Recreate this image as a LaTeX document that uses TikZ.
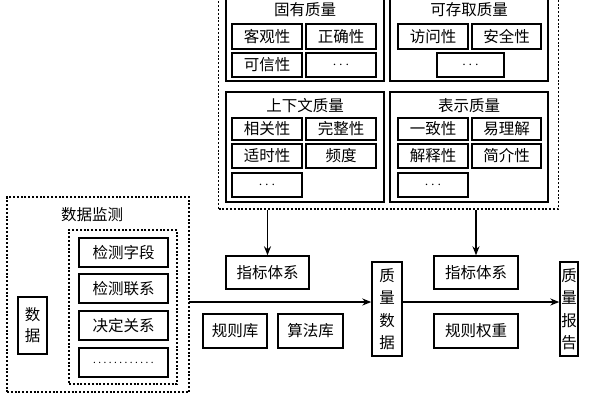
\documentclass[tikz,border=0pt]{standalone}
\usepackage{fontspec}
\setmainfont{Noto Sans CJK SC}
\usetikzlibrary{arrows.meta}
\begin{document}
\begin{tikzpicture}[x=1pt,y=-1pt,
  font=\fontsize{15.5}{17}\selectfont,
  sbox/.style={draw,line width=1.4pt,inner sep=0pt,minimum width=70pt,minimum height=25pt},
  gbox/.style={draw,line width=1.4pt,inner sep=0pt},
  dbox/.style={draw,line width=1.5pt,dash pattern=on 2pt off 1.8pt,inner sep=0pt},
  ttl/.style={inner sep=0pt},
  arr/.style={line width=1.4pt,-{Stealth[length=9pt,width=7pt]}}]
\useasboundingbox (0,0) rectangle (600,400);
% top dashed area
\node[dbox,minimum width=340pt,minimum height=216pt] (topbox) at (388.5,101) {};
% group boxes
\node[gbox,minimum width=158pt,minimum height=85pt] (g1) at (305,38.5) {};
\node[gbox,minimum width=158pt,minimum height=85pt] (g2) at (469,38.5) {};
\node[gbox,minimum width=158pt,minimum height=110pt] (g3) at (305,147) {};
\node[gbox,minimum width=158pt,minimum height=110pt] (g4) at (469,147) {};
\node[ttl] (t1) at (305,10) {固有质量};
\node[ttl] (t2) at (469,10) {可存取质量};
\node[ttl] (t3) at (305,106) {上下文质量};
\node[ttl] (t4) at (469,106) {表示质量};
% small boxes
\node[sbox] (a1) at (267,36.5) {客观性};
\node[sbox] (a2) at (341,36.5) {正确性};
\node[sbox,minimum height=24pt] (a3) at (267,65) {可信性};
\node[sbox,minimum height=24pt] (a4) at (341,65) {$\cdots$};
\node[sbox] (b1) at (433,36.5) {访问性};
\node[sbox,minimum width=69pt] (b2) at (506.5,36.5) {安全性};
\node[sbox,minimum width=67pt,minimum height=24pt] (b3) at (470.5,65) {$\cdots$};
\node[sbox,minimum height=22pt] (c1) at (267,129) {相关性};
\node[sbox,minimum height=22pt] (c2) at (341,129) {完整性};
\node[sbox,minimum height=24pt] (c3) at (267,156) {适时性};
\node[sbox,minimum height=24pt] (c4) at (341,156) {频度};
\node[sbox,minimum height=24pt] (c5) at (267,185) {$\cdots$};
\node[sbox,minimum height=22pt] (d1) at (433,129) {一致性};
\node[sbox,minimum width=69pt,minimum height=22pt] (d2) at (506.5,129) {易理解};
\node[sbox,minimum height=24pt] (d3) at (433,156) {解释性};
\node[sbox,minimum width=69pt,minimum height=24pt] (d4) at (506.5,156) {简介性};
\node[sbox,minimum height=24pt] (d5) at (433,185) {$\cdots$};
% data monitoring
\node[dbox,minimum width=182pt,minimum height=195pt] (mon) at (98,294.5) {};
\node[ttl] (mt) at (92,215) {数据监测};
\node[dbox,minimum width=108pt,minimum height=154pt] (inner) at (123,307) {};
\node[sbox,minimum width=89pt,minimum height=29pt] (m1) at (123.5,252.5) {检测字段};
\node[sbox,minimum width=89pt,minimum height=29pt] (m2) at (123.5,288.5) {检测联系};
\node[sbox,minimum width=89pt,minimum height=29pt] (m3) at (123.5,325.5) {决定关系};
\node[sbox,minimum width=89pt,minimum height=29pt] (m4) at (123.5,362.5) {{\fontsize{10}{10}\selectfont\hbox to 63pt{\xleaders\hbox to 5.25pt{\hss.\hss}\hfill}}};
\node[gbox,minimum width=29pt,minimum height=57pt,align=center,font=\fontsize{15.5}{21}\selectfont] (data) at (32.5,325.5) {数\\据};
% middle section
\node[gbox,minimum width=83pt,minimum height=33pt] (ib1) at (267.5,272.5) {指标体系};
\node[gbox,minimum width=64pt,minimum height=34pt] (rl) at (235,331) {规则库};
\node[gbox,minimum width=65pt,minimum height=34pt] (al) at (310.5,331) {算法库};
\node[gbox,minimum width=30pt,minimum height=94pt,align=center,font=\fontsize{15.5}{22.5}\selectfont] (qd) at (387,309) {质\\量\\数\\据};
\node[gbox,minimum width=84pt,minimum height=33pt] (ib2) at (476,272.5) {指标体系};
\node[gbox,minimum width=84pt,minimum height=34pt] (rw) at (476,331) {规则权重};
\node[gbox,minimum width=18pt,minimum height=94pt,align=center,font=\fontsize{15.5}{22.5}\selectfont] (qr) at (569,309) {质\\量\\报\\告};
% arrows
\coordinate (ms) at (189,302);
\draw[arr] (ms) -- (ms -| qd.west);
\draw[arr] (qd.east |- ms) -- (qr.west |- ms);
\draw[arr] (topbox.south -| ib1.north) -- (ib1.north);
\draw[arr] (topbox.south -| ib2.north) -- (ib2.north);
\end{tikzpicture}
\end{document}
